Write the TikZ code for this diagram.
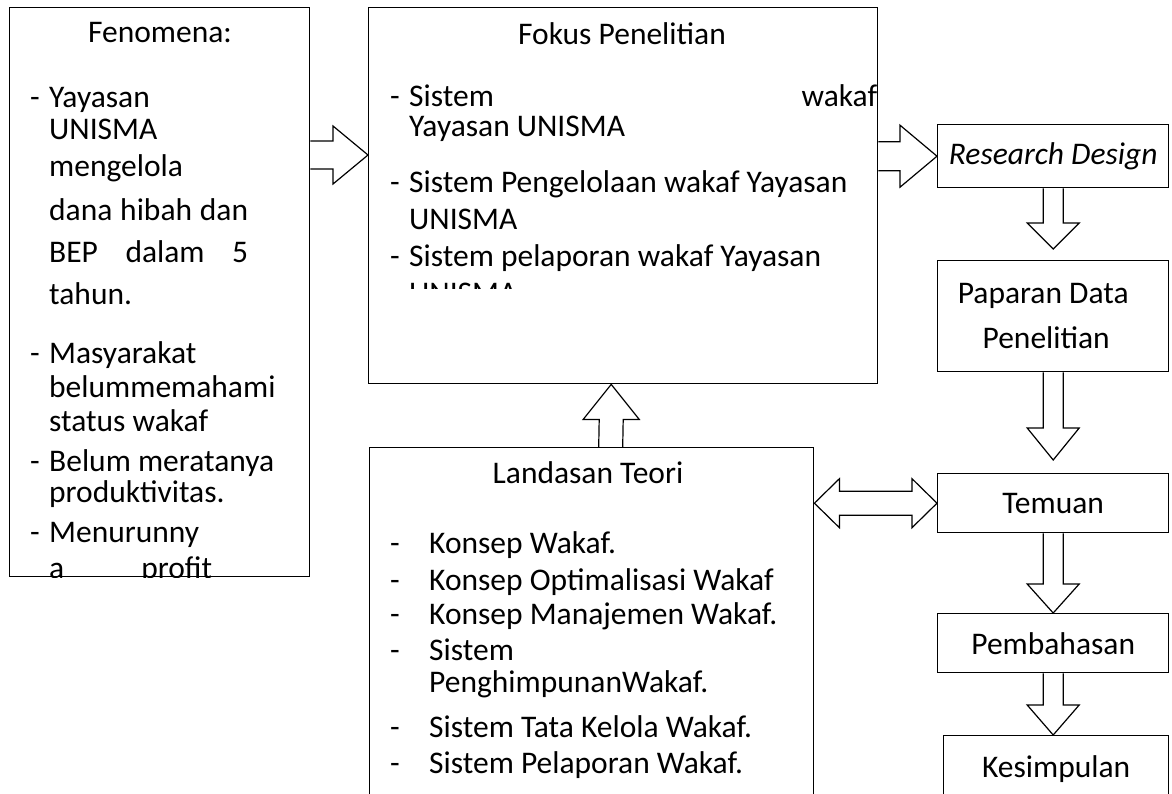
\documentclass[tikz,border=0pt]{standalone}
\usepackage{fontspec}
\setmainfont{Carlito}
\usetikzlibrary{calc}
\tikzset{
box/.style={draw, line width=1.4pt, inner sep=0pt, anchor=north west},
txt/.style={inner sep=0pt, anchor=base west},
ttl/.style={inner sep=0pt, anchor=base},
blk/.style={draw, line width=1.2pt, line join=miter},
}
\newcommand{\blkright}[5]{\draw[blk] ($#1+(0,-#3)$) -- ($#2+(-#5,-#3)$) -- ($#2+(-#5,-#4)$) -- #2 -- ($#2+(-#5,#4)$) -- ($#2+(-#5,#3)$) -- ($#1+(0,#3)$);}
\newcommand{\blkdown}[5]{\draw[blk] ($#1+(-#3,0)$) -- ($#2+(-#3,-#5)$) -- ($#2+(-#4,-#5)$) -- #2 -- ($#2+(#4,-#5)$) -- ($#2+(#3,-#5)$) -- ($#1+(#3,0)$);}
\newcommand{\blkup}[5]{\draw[blk] ($#1+(-#3,0)$) -- ($#2+(-#3,#5)$) -- ($#2+(-#4,#5)$) -- #2 -- ($#2+(#4,#5)$) -- ($#2+(#3,#5)$) -- ($#1+(#3,0)$);}
\newcommand{\blkboth}[5]{\draw[blk] #1 -- ($#1+(#5,-#4)$) -- ($#1+(#5,-#3)$) -- ($#2+(-#5,-#3)$) -- ($#2+(-#5,-#4)$) -- #2 -- ($#2+(-#5,#4)$) -- ($#2+(-#5,#3)$) -- ($#1+(#5,#3)$) -- ($#1+(#5,#4)$) -- cycle;}

\begin{document}
\begin{tikzpicture}[x=1pt, y=-1pt, font=\fontsize{31.5}{38}\selectfont]
\useasboundingbox (0,0) rectangle (1172,794);
\clip (0,0) rectangle (1172,794);

\node[box, minimum width=300pt, minimum height=569pt] (fen) at (9,7) {};
\node[box, minimum width=509pt, minimum height=376pt] (fok) at (368,7) {};
\node[box, minimum width=444pt, minimum height=370pt] (lan) at (369,447) {};
\node[box, minimum width=231pt, minimum height=63pt] (rd) at (937,124) {\textit{Research Design}};
\node[box, minimum width=231pt, minimum height=111pt, align=center, font=\fontsize{31.5}{45}\selectfont] (pap) at (937,260) {Paparan Data\kern20pt\\Penelitian\kern14pt};
\node[box, minimum width=231pt, minimum height=59pt] (tem) at (937,473) {Temuan};
\node[box, minimum width=231pt, minimum height=59pt] (pem) at (937,613) {Pembahasan};
\node[box, minimum width=225pt, minimum height=66pt] (kes) at (943,735) {Kesimpulan};

\node[ttl] (fen-t) at (160,43) {Fenomena:};
\begin{scope}
\clip (fen.north west) rectangle (fen.south east);
\foreach \y in {108,363,471,542}
  \node[txt] (fen-d\y) at (30,\y) {-};
\foreach \y/\t in {108/Yayasan, 140/UNISMA, 177/mengelola,
  221/{\makebox[199pt][s]{dana hibah dan}}, 262/{\makebox[199pt][s]{BEP dalam 5}},
  305/tahun., 363/Masyarakat, 397/belummemahami, 431/status wakaf,
  471/Belum meratanya, 502/produktivitas., 542/Menurunny,
  578/{\makebox[163pt][l]{a\hfill profit}}}
  \node[txt] (fen-\y) at (49,\y) {\t};
\end{scope}

\node[ttl] (fok-t) at (622,45) {Fokus Penelitian};
\begin{scope}
\clip (fok.north west) rectangle (877,288);
\foreach \y in {107,193,267}
  \node[txt] (fok-d\y) at (390,\y) {-};
\foreach \y/\t in {107/{\makebox[468pt][l]{Sistem\hfill wakaf}}, 137/Yayasan UNISMA,
  193/Sistem Pengelolaan wakaf Yayasan, 230/UNISMA,
  267/Sistem pelaporan wakaf Yayasan, 303/UNISMA}
  \node[txt] (fok-\y) at (409,\y) {\t};
\end{scope}

\node[ttl] (lan-t) at (588,483) {Landasan Teori};
\foreach \y in {553,590,624,660,737,773}
  \node[txt] (lan-d\y) at (390,\y) {-};
\foreach \y/\t in {553/Konsep Wakaf., 590/Konsep Optimalisasi Wakaf,
  624/Konsep Manajemen Wakaf., 660/Sistem, 692/PenghimpunanWakaf.,
  737/Sistem Tata Kelola Wakaf., 773/Sistem Pelaporan Wakaf.}
  \node[txt] (lan-\y) at (429,\y) {\t};

\blkright{(fen.east |- 0,155)}{(fok.west |- 0,155)}{14}{29}{35}
\blkright{(fok.east |- rd.west)}{(rd.west)}{14.5}{31}{37}
\blkdown{(rd.south)}{([yshift=11pt]pap.north)}{10}{26}{26}
\blkdown{(pap.south)}{([yshift=13pt]tem.north)}{10}{26}{32}
\blkdown{(tem.south)}{(pem.north)}{10}{26}{29}
\blkdown{(pem.south)}{(pem.south |- kes.north)}{10}{26}{30}
\blkup{([xshift=19pt]lan.north)}{([xshift=-12pt]fok.south)}{12}{28}{35}
\blkboth{(lan.east |- tem.west)}{(tem.west)}{12}{24.5}{25}
\end{tikzpicture}
\end{document}
